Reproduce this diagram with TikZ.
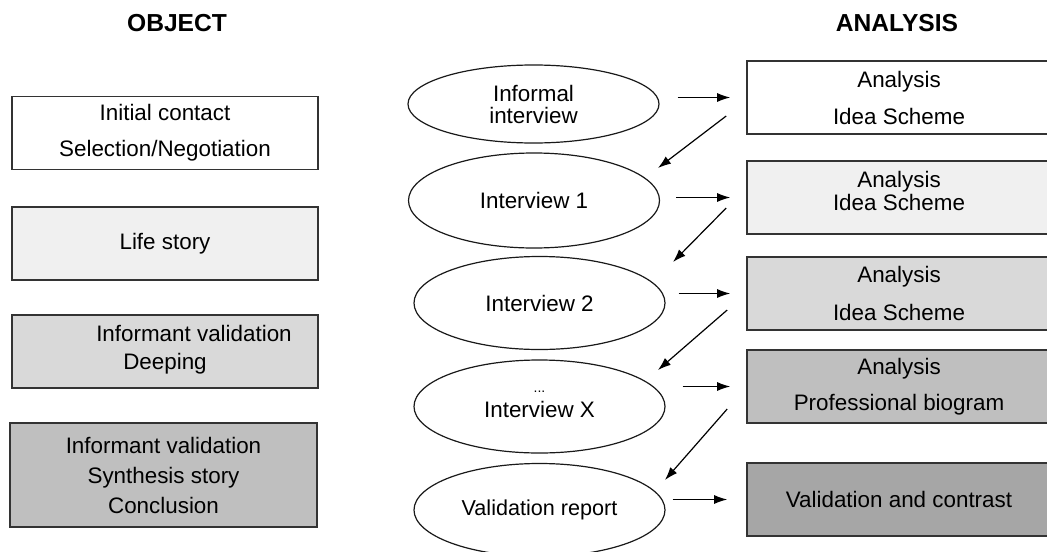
\documentclass[tikz,border=0pt]{standalone}
\usepackage{fontspec}
\setmainfont{Liberation Sans}
\usetikzlibrary{shapes.geometric,calc,arrows.meta}

\begin{document}
\begin{tikzpicture}[x=0.5pt,y=-0.5pt,
    every node/.style={font=\fontsize{11.2}{13.5}\selectfont,align=center},
    objbox/.style={rectangle,draw=black!80,line width=0.8pt,minimum width=153pt,minimum height=36.5pt,inner sep=0pt},
    anabox/.style={rectangle,draw=black!80,line width=0.8pt,minimum width=152pt,minimum height=36.5pt,inner sep=0pt},
    talk/.style={ellipse,draw=black!90,line width=0.6pt,minimum width=125.5pt,minimum height=46.5pt,inner sep=0pt},
    title/.style={font=\fontsize{12.3}{14}\selectfont\bfseries},
    >={Latex[length=6.5pt,width=4.5pt]}]

\useasboundingbox (0,0) rectangle (1047,551);
\clip (0,0) rectangle (1047,551);

% Column titles
\node[title] (objtitle) at (177,23) {OBJECT};
\node[title] (anatitle) at (897,23) {ANALYSIS};

% Object column
\node[objbox] (obj1) at (165,133) {Initial contact\\[4.5pt]Selection/Negotiation};
\node[objbox,fill=gray!12] (obj2) at (165,243.5) {Life story};
\node[objbox,fill=gray!30] (obj3) at (165,351.5) {\hspace*{29pt}Informant validation\\[0.5pt]Deeping\\[-9.5pt]\mbox{}};
\node[objbox,fill=gray!50,minimum width=153.5pt,minimum height=52pt] (obj4) at (163.5,475)
    {Informant validation\\[1.5pt]Synthesis story\\[1.5pt]Conclusion};

% Interviews
\node[talk,minimum height=39pt] (inf) at (533.5,104) {Informal\\[-2.5pt]interview};
\node[talk,minimum height=47.5pt] (int1) at (534,200.5) {Interview 1};
\node[talk] (int2) at (539.5,303) {Interview 2};
\node[talk] (intx) at (539.5,406.5) {{\fontsize{7}{7}\selectfont...}\\[-1pt]Interview X\\[-11pt]\mbox{}};
\node[talk] (valrep) at (539.5,510) {\fontsize{10.8}{13}\selectfont Validation report};

% Analysis column
\node[anabox] (ana1) at (899,97.5) {Analysis\\[5pt]Idea Scheme};
\node[anabox,fill=gray!12] (ana2) at (899,197.5) {Analysis\\[-2pt]Idea Scheme\\[-6.5pt]\mbox{}};
\node[anabox,fill=gray!30] (ana3) at (899,293.5) {Analysis\\[5.5pt]Idea Scheme};
\node[anabox,fill=gray!50] (ana4) at (899,386.5) {Analysis\\[4.5pt]Professional biogram};
\node[anabox,fill=gray!70] (ana5) at (899,499.5) {Validation and contrast};

% Interview -> analysis
\draw[->,line width=0.6pt,shorten <=9pt,shorten >=8pt] (inf.east |- ana1.west) -- (ana1.west);
\draw[->,line width=0.6pt,shorten <=8pt,shorten >=8pt] (int1.east |- ana2.west) -- (ana2.west);
\draw[->,line width=0.6pt,shorten <=6.5pt,shorten >=8pt] (int2.east |- ana3.west) -- (ana3.west);
\draw[->,line width=0.6pt,shorten <=8.5pt,shorten >=8pt] (intx.east |- ana4.west) -- (ana4.west);
\draw[->,line width=0.6pt,shorten <=3.5pt,shorten >=9.5pt] (valrep.east |- ana5.west) -- (ana5.west);

% Analysis -> next interview
\draw[->,line width=0.6pt] ($(ana1.west)+(-20,18.5)$) -- ($(int1)+(124,-32.5)$);
\draw[->,line width=0.6pt] ($(ana2.west)+(-20,10.5)$) -- ($(int2)+(133.5,-41)$);
\draw[->,line width=0.6pt] ($(ana3.west)+(-19,16.5)$) -- ($(intx)+(118.5,-36.5)$);
\draw[->,line width=0.6pt] ($(ana4.west)+(-19,22.5)$) -- ($(valrep)+(125.5,-30)$);

\end{tikzpicture}
\end{document}
